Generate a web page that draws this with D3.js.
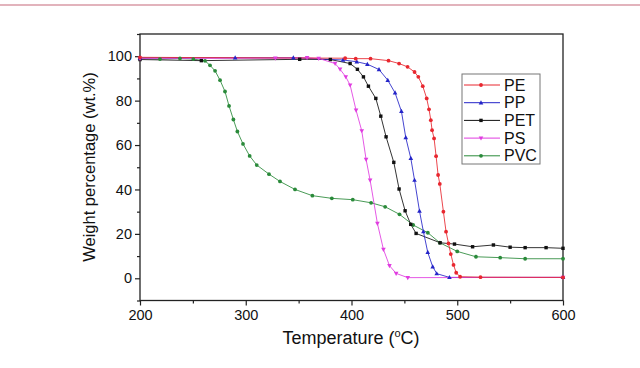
<!DOCTYPE html>
<html><head><meta charset="utf-8">
<script src="https://cdn.jsdelivr.net/npm/d3@7/dist/d3.min.js"></script>
<style>body{margin:0;background:#fff;} svg{display:block;font-family:"Liberation Sans",Arial,sans-serif;}</style>
</head><body>
<svg id="c" width="640" height="368"></svg>
<script>
const seriesNames = ["PE","PP","PET","PS","PVC"];
const seriesColors = ["#e8272f","#2424c8","#111111","#e03ce0","#2a8a3a"];
const seriesSymbols = ["circle","triangle","square","triangleDown","circle"];
const PE = [[200,99.5],[394,99.1],[404,98.9],[418,98.9],[435,98],[445,96.7],[453,95.2],[459.6,92.9],[463.2,90.7],[467.4,86.5],[471.1,81],[473.3,76.1],[475,71.2],[476.2,66.7],[478.1,63],[480,55],[481.9,46.5],[483.5,42.5],[486.9,30],[489.4,21],[491.7,15.7],[493.9,10.9],[496.5,6],[499,2.5],[502.7,0.7],[522,0.5],[600,0.4]];
const PP = [[200,99.3],[290,99.3],[345,99.3],[392,98.3],[405,97.5],[415,96.4],[426,94],[434.3,89.2],[441.2,83.5],[447.2,75.2],[451.3,63.4],[456.1,54],[459.6,44.2],[464.3,30.3],[468,21],[472.1,11.7],[476.8,5.2],[480.6,2.1],[492.6,0.4],[600,0.4]];
const PET = [[200,98.5],[258,98],[351,98.6],[380,98.5],[398.7,96.7],[405.6,94.1],[411.3,90.7],[416,86.5],[423,81],[427.7,73],[432.7,63.7],[440,52.2],[445,40.2],[450.7,30.4],[456,24.3],[461.1,20.2],[483.8,16],[497.4,15.4],[514.5,14.2],[534.2,15],[550,14],[564.2,13.8],[584,13.8],[600,13.5]];
const PS = [[200,99],[328,99.1],[358,99.3],[369,99],[384.5,96.7],[389.2,94.1],[394.6,90.7],[398.7,87],[404.3,75.7],[409.7,66.4],[413.8,53.5],[417.6,44.2],[424.5,24.7],[430.2,13],[435.9,5.7],[442.2,2.2],[453.2,0.3],[600,0.4]];
const PVC = [[200,99],[218.9,98.7],[237.8,99],[250.4,98.7],[261.5,97.9],[266.2,95.9],[271,93.4],[275.7,89.2],[280.4,84.1],[284.2,77.6],[288.3,71.5],[292.1,66.1],[297.4,60.5],[303.7,55.1],[310.4,51],[322,46.9],[332.4,43.6],[346.6,40],[363,37.2],[381.4,36],[401.2,35.4],[418.5,34],[431.8,32.2],[445.4,28.8],[458.3,24],[472.2,20.5],[483.5,16],[500,12.1],[517.7,9.7],[540.6,9.3],[564.2,8.8],[600,8.8]];
const seriesData = [PE,PP,PET,PS,PVC];
const xTicks = [200,300,400,500,600];
const yTicks = [0,20,40,60,80,100];

const svg = d3.select("#c");
const L=140, R=563, T=34, B=300.5;
const x = d3.scaleLinear().domain([200,600]).range([L,R]);
const y = d3.scaleLinear().domain([-10,110]).range([B,T]);

// top pink rule
svg.append("line").attr("x1",0).attr("x2",640).attr("y1",5).attr("y2",5)
  .attr("stroke","#d99aa6").attr("stroke-width",1.5);

const ax = "#222";
svg.append("rect").attr("x",L).attr("y",T).attr("width",R-L).attr("height",B-T)
  .attr("fill","none").attr("stroke",ax).attr("stroke-width",1.3);

const gx = svg.append("g").attr("transform",`translate(0,${B})`)
  .call(d3.axisBottom(x).tickValues(xTicks).tickSize(5).tickPadding(4).tickFormat(d3.format("d")));
const gxm = svg.append("g").attr("transform",`translate(0,${B})`)
  .call(d3.axisBottom(x).tickValues([250,350,450,550]).tickSize(3).tickFormat(""));
const gy = svg.append("g").attr("transform",`translate(${L},0)`)
  .call(d3.axisLeft(y).tickValues(yTicks).tickSize(5).tickPadding(3).tickFormat(d3.format("d")));
const gym = svg.append("g").attr("transform",`translate(${L},0)`)
  .call(d3.axisLeft(y).tickValues([-10,10,30,50,70,90,110]).tickSize(3).tickFormat(""));
[gx,gxm,gy,gym].forEach(g=>{
  g.select(".domain").remove();
  g.selectAll("line").attr("stroke",ax).attr("stroke-width",1.2);
  g.selectAll("text").attr("fill","#111").style("font-size","14.5px").style("font-family","'Liberation Sans',Arial,sans-serif");
});

const xt = svg.append("text").attr("x",351).attr("y",344).attr("text-anchor","middle")
  .style("font-size","18px").attr("fill","#111");
xt.append("tspan").text("Temperature (");
xt.append("tspan").text("o").style("font-size","11px").attr("dy",-7);
xt.append("tspan").text("C)").attr("dy",7);
svg.append("text").attr("transform","translate(95,167) rotate(-90)").attr("text-anchor","middle")
  .style("font-size","16.5px").attr("fill","#111").text("Weight percentage (wt.%)");

function drawSym(g, sym, cx, cy, color){
  if(sym==="circle") g.append("circle").attr("cx",cx).attr("cy",cy).attr("r",1.9).attr("fill",color);
  else if(sym==="square") g.append("rect").attr("x",cx-1.7).attr("y",cy-1.7).attr("width",3.4).attr("height",3.4).attr("fill",color);
  else if(sym==="triangle") g.append("path").attr("d",`M${cx},${cy-2.5}L${cx+2.3},${cy+1.7}L${cx-2.3},${cy+1.7}Z`).attr("fill",color);
  else g.append("path").attr("d",`M${cx},${cy+2.5}L${cx+2.3},${cy-1.7}L${cx-2.3},${cy-1.7}Z`).attr("fill",color);
}

const line = d3.line().x(d=>x(d[0])).y(d=>y(d[1]));
const plot = svg.append("g");
const order = [4,2,1,3,0];
order.forEach(i=>{
  plot.append("path").datum(seriesData[i]).attr("d",line).attr("fill","none")
    .attr("stroke",seriesColors[i]).attr("stroke-width",1).attr("stroke-opacity",0.85);
});
order.forEach(i=>{
  const g = plot.append("g");
  seriesData[i].forEach(d=>drawSym(g, seriesSymbols[i], x(d[0]), y(d[1]), seriesColors[i]));
});

const lg = svg.append("g");
lg.append("rect").attr("x",462).attr("y",74).attr("width",78).attr("height",90)
  .attr("fill","#fff").attr("stroke","#777").attr("stroke-width",1);
seriesNames.forEach((n,i)=>{
  const yy = 85 + i*17.7;
  lg.append("line").attr("x1",464).attr("x2",500).attr("y1",yy).attr("y2",yy)
    .attr("stroke",seriesColors[i]).attr("stroke-width",1);
  drawSym(lg, seriesSymbols[i], 481, yy, seriesColors[i]);
  lg.append("text").attr("x",504).attr("y",yy+5.5).style("font-size","16px").attr("fill","#111").text(n);
});
</script>
</body></html>
